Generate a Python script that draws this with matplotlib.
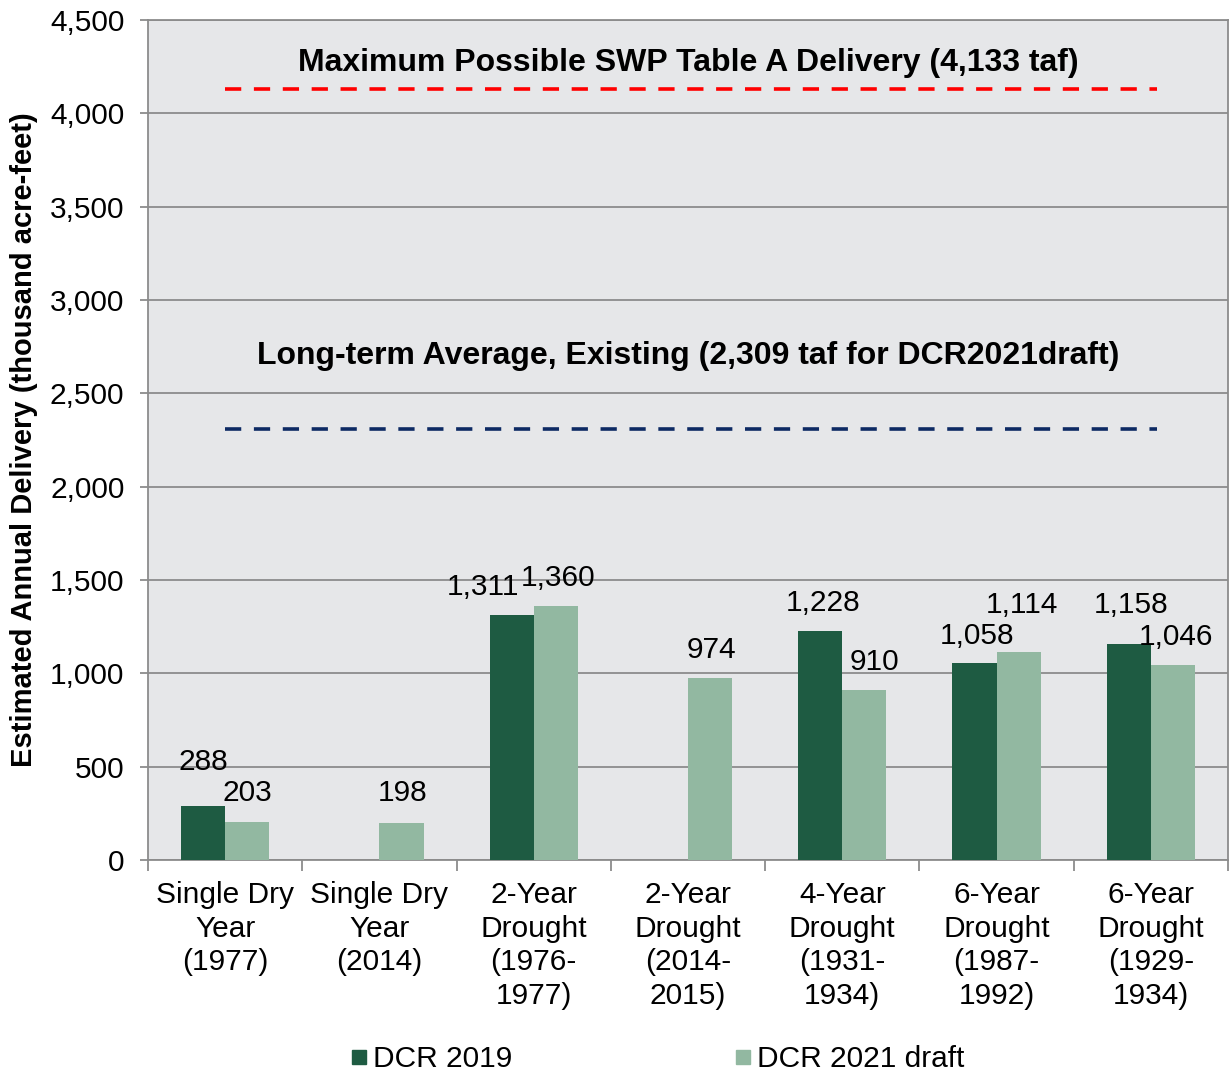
import numpy as np
import matplotlib
matplotlib.use('Agg')
import matplotlib.pyplot as plt
from matplotlib.lines import Line2D

plt.rcParams['font.family'] = ['Liberation Sans', 'DejaVu Sans']

categories = ['Single Dry\nYear\n(1977)', 'Single Dry\nYear\n(2014)',
              '2-Year\nDrought\n(1976-\n1977)', '2-Year\nDrought\n(2014-\n2015)',
              '4-Year\nDrought\n(1931-\n1934)', '6-Year\nDrought\n(1987-\n1992)',
              '6-Year\nDrought\n(1929-\n1934)']
dcr2019 = [288, np.nan, 1311, np.nan, 1228, 1058, 1158]
dcr2021 = [203, 198, 1360, 974, 910, 1114, 1046]
max_delivery = 4133
long_term_avg = 2309

# label nudges in pixels (dx, dy from top of bar)
off2019 = [(0, 44), None, (-29, 28), None, (3, 28), (2, 27), (2, 39)]
off2021 = [(0, 29), (1, 30), (2, 28), (1, 28), (10, 28), (3, 47), (3, 28)]

c_dark = '#1E5B42'
c_light = '#92B8A1'
grey = '#8C8C8C'
fs = 21.5

fig = plt.figure(figsize=(12.3, 10.74), dpi=100)
ax = fig.add_axes([148/1230, 214/1074, 1080/1230, 840/1074])
ax.set_facecolor('#E6E7E9')

x = np.arange(len(categories))
w = 0.286
ax.bar(x - w/2, dcr2019, w, color=c_dark, zorder=3)
ax.bar(x + w/2, dcr2021, w, color=c_light, zorder=3)

for i in range(len(x)):
    if not np.isnan(dcr2019[i]):
        ax.annotate(f'{dcr2019[i]:,.0f}', (x[i] - w/2, dcr2019[i]), xytext=off2019[i],
                    textcoords='offset pixels', ha='center', va='center', fontsize=fs, zorder=4)
    ax.annotate(f'{dcr2021[i]:,.0f}', (x[i] + w/2, dcr2021[i]), xytext=off2021[i],
                textcoords='offset pixels', ha='center', va='center', fontsize=fs, zorder=4)

ax.plot([0, 6.04], [max_delivery]*2, color='#FF0000', lw=2.6, dashes=(4.5, 3.5), zorder=4)
ax.plot([0, 6.04], [long_term_avg]*2, color='#0D2A63', lw=2.6, dashes=(4.5, 3.5), zorder=4)
ax.text(3.0, 4270, 'Maximum Possible SWP Table A Delivery (4,133 taf)', ha='center', va='center',
        fontsize=23, fontweight='bold')
ax.text(3.0, 2700, 'Long-term Average, Existing (2,309 taf for DCR2021draft)', ha='center', va='center',
        fontsize=23, fontweight='bold')

ax.set_xlim(-0.5, 6.5)
ax.set_ylim(0, 4500)
ax.set_yticks(np.arange(0, 4501, 500))
ax.set_yticklabels([f'{v:,}' for v in range(0, 4501, 500)], fontsize=fs)
ax.yaxis.grid(True, color=grey, lw=1.3, zorder=1)
ax.set_axisbelow(True)

ax.set_xticks(x)
ax.set_xticklabels(categories, fontsize=fs, linespacing=1.26)
ax.set_xticks(np.arange(-0.5, 7, 1), minor=True)
ax.tick_params(axis='x', which='major', length=0, pad=15)
ax.tick_params(axis='x', which='minor', length=8, width=1.3, color=grey)
ax.tick_params(axis='y', length=6, width=1.3, color=grey, pad=11)

for s in ax.spines.values():
    s.set_color(grey)
    s.set_linewidth(1.3)

ax.set_ylabel('Estimated Annual Delivery (thousand acre-feet)', fontsize=21, fontweight='bold')
ax.yaxis.set_label_coords(-110/1080, 0.5)

handles = [Line2D([], [], marker='s', ls='', color=c_dark, markersize=10),
           Line2D([], [], marker='s', ls='', color=c_light, markersize=10)]
fig.legend(handles, ['DCR 2019', 'DCR 2021 draft'], loc='center', bbox_to_anchor=(658/1230, 1 - 1059/1074),
           ncol=2, frameon=False, fontsize=fs, handlelength=0.5, handletextpad=0.2, columnspacing=7.5)

fig.savefig('out.png', dpi=100)
